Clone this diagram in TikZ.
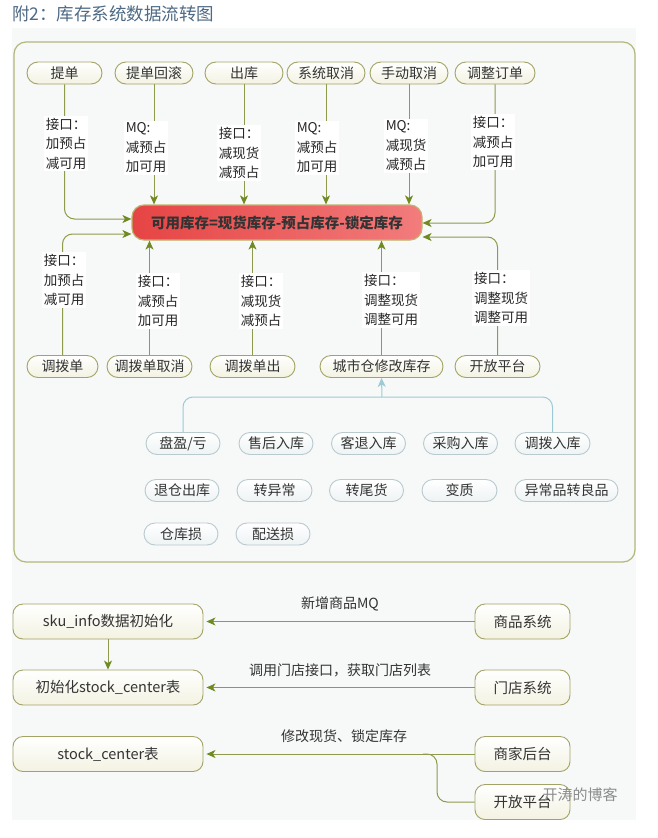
\documentclass[tikz,border=0pt]{standalone}
\usepackage{fontspec}
\setmainfont{Noto Sans CJK SC}
\usetikzlibrary{arrows.meta,calc}
\definecolor{bgc}{HTML}{F7F8F8}
\definecolor{framec}{HTML}{B3B77A}
\definecolor{nodeb}{HTML}{A2A466}
\definecolor{creamc}{HTML}{F3F2E2}
\definecolor{linec}{HTML}{8F9A4C}
\definecolor{arrc}{HTML}{6F8A22}
\definecolor{cyanl}{HTML}{9CCBD6}
\definecolor{grpb}{HTML}{B9CACE}
\definecolor{grpf}{HTML}{EEF3F4}
\definecolor{titlec}{HTML}{4E6A85}
\definecolor{txt}{HTML}{333333}
\definecolor{redl}{HTML}{E64444}
\definecolor{redr}{HTML}{F27C7C}
\definecolor{redb}{HTML}{BDB56E}
\begin{document}
\begin{tikzpicture}[x=1pt,y=-1pt,
  pill/.style={draw=nodeb, line width=0.9pt, rounded corners=11pt, minimum height=22pt, inner sep=0pt,
    top color=white, bottom color=creamc, font=\fontsize{14}{16}\selectfont, text=txt},
  grp/.style={draw=grpb, line width=0.9pt, rounded corners=11pt, minimum height=22pt, inner sep=0pt,
    top color=white, bottom color=grpf, font=\fontsize{14}{16}\selectfont, text=txt},
  box/.style={draw=nodeb, line width=0.9pt, rounded corners=10pt, minimum height=35pt, inner sep=0pt,
    top color=white, bottom color=creamc, font=\fontsize{14.5}{16}\selectfont, text=txt},
  lab/.style={fill=white, align=left, inner sep=2pt, font=\fontsize{13.5}{19.5}\selectfont, text=black!85},
  plain/.style={inner sep=1pt, font=\fontsize{14}{16}\selectfont, text=txt},
  conn/.style={draw=linec, line width=1pt, rounded corners=10pt,
    -{Stealth[length=9pt,width=8pt,inset=2.5pt,color=arrc]}},
  oline/.style={draw=linec, line width=1pt, rounded corners=10pt},
  cline/.style={draw=cyanl, line width=1pt, rounded corners=10pt},
  carrow/.style={draw=cyanl, line width=1pt, -{Stealth[length=9pt,width=8pt,inset=2.5pt,color=cyanl]}}
]
\useasboundingbox (0,0) rectangle (657,838);
\fill[white] (0,0) rectangle (657,838);
\fill[bgc] (12,28) rectangle (636,820);
\node[anchor=west, text=titlec, font=\fontsize{17.5}{18}\selectfont, inner sep=0pt] (title) at (12,14) {附2：库存系统数据流转图};
\draw[framec, line width=1.2pt, rounded corners=12pt] (14,42) rectangle (635,562);

% central red box
\node[draw=redb, line width=1.2pt, rounded corners=12pt, minimum width=290pt, minimum height=35pt, inner sep=0pt,
  left color=redl, right color=redr, font=\bfseries\fontsize{14.5}{16}\selectfont, text=black!80] (red) at (277,222.5)
  {可用库存=现货库存-预占库存-锁定库存};

% top nodes
\node[pill, minimum width=75pt] (tidan) at (64.5,73) {提单};
\node[pill, minimum width=78pt] (tdhg) at (154,73) {提单回滚};
\node[pill, minimum width=78pt] (chuku) at (244,73) {出库};
\node[pill, minimum width=78pt] (xtqx) at (326,73) {系统取消};
\node[pill, minimum width=78pt] (sdqx) at (409,73) {手动取消};
\node[pill, minimum width=80pt] (tzdd) at (495,73) {调整订单};

% bottom nodes
\node[pill, minimum width=71pt] (dbd) at (62.5,366.5) {调拨单};
\node[pill, minimum width=85pt] (dbdqx) at (149.5,366.5) {调拨单取消};
\node[pill, minimum width=85pt] (dbdc) at (252.5,366.5) {调拨单出};
\node[pill, minimum width=123pt] (csc) at (381.5,366.5) {城市仓修改库存};
\node[pill, minimum width=85pt] (kfpt) at (497.5,366.5) {开放平台};

% connectors into red box
\draw[conn] (tidan.south) |- ([yshift=3.5pt]red.west);
\draw[conn] (tdhg.south) -- (tdhg.south |- red.north);
\draw[conn] (chuku.south) -- (chuku.south |- red.north);
\draw[conn] (xtqx.south) -- (xtqx.south |- red.north);
\draw[conn] (sdqx.south) -- (sdqx.south |- red.north);
\draw[conn] (tzdd.south) |- ([yshift=-0.5pt]red.east);
\draw[conn] (dbd.north) |- ([yshift=-11.5pt]red.west);
\draw[conn] (dbdqx.north) -- (dbdqx.north |- red.south);
\draw[conn] (dbdc.north) -- (dbdc.north |- red.south);
\draw[conn] (csc.north) -- (csc.north |- red.south);
\draw[conn] (kfpt.north) |- ([yshift=-14.5pt]red.east);

% labels on connectors
\node[lab] (l1) at (66,143.5) {接口：\\加预占\\减可用};
\node[lab] (l2) at (146,148) {MQ:\\减预占\\加可用};
\node[lab] (l3) at (239,153) {接口：\\减现货\\减预占};
\node[lab] (l4) at (317,148) {MQ:\\减预占\\加可用};
\node[lab] (l5) at (406,146) {MQ:\\减现货\\减预占};
\node[lab] (l6) at (493,142) {接口：\\减预占\\加可用};
\node[lab] (b1) at (64,280) {接口：\\加预占\\减可用};
\node[lab] (b2) at (158,301) {接口：\\减预占\\加可用};
\node[lab] (b3) at (261,301) {接口：\\减现货\\减预占};
\node[lab] (b4) at (391,300) {接口：\\调整现货\\调整可用};
\node[lab] (b5) at (501,298) {接口：\\调整现货\\调整可用};

% group nodes
\node[grp, minimum width=74pt] (pyk) at (183,443.5) {盘盈/亏};
\node[grp, minimum width=74pt] (shrk) at (276,443.5) {售后入库};
\node[grp, minimum width=74pt] (ktrk) at (368.5,443.5) {客退入库};
\node[grp, minimum width=74pt] (cgrk) at (460.5,443.5) {采购入库};
\node[grp, minimum width=75pt] (dbrk) at (552.5,443.5) {调拨入库};
\node[grp, minimum width=74pt] (tcck) at (182,490.5) {退仓出库};
\node[grp, minimum width=75pt] (tyc) at (274.5,490.5) {转异常};
\node[grp, minimum width=74pt] (twh) at (366.5,490.5) {转尾货};
\node[grp, minimum width=75pt] (bz) at (459.5,490.5) {变质};
\node[grp, minimum width=103pt] (ycp) at (566.5,490.5) {异常品转良品};
\node[grp, minimum width=74pt] (cks) at (181,534) {仓库损};
\node[grp, minimum width=74pt] (pss) at (273,534) {配送损};

\coordinate (jn) at (382,397);
\draw[cline] (pyk.north) |- (jn) -| (dbrk.north);
\draw[carrow] (jn) -- (csc.south);

% bottom section
\node[box, minimum width=190pt] (sku) at (108,621.5) {sku\_info数据初始化};
\node[box, minimum width=190pt] (init) at (108,687.5) {初始化stock\_center表};
\node[box, minimum width=190pt] (sc) at (108,754) {stock\_center表};
\node[box, minimum width=95pt] (spxt) at (522.5,621.5) {商品系统};
\node[box, minimum width=95pt] (mdxt) at (522.5,687.5) {门店系统};
\node[box, minimum width=95pt] (sjht) at (522.5,754) {商家后台};
\node[box, minimum width=95pt] (kfpt2) at (522.5,802) {开放平台};

\draw[conn, shorten >=3pt] (spxt.west) -- (sku.east);
\draw[conn, shorten >=3pt] (mdxt.west) -- (init.east);
\draw[conn, shorten >=3pt] (sjht.west) -- (sc.east);
\draw[conn] (sku.south) -- (init.north);
\coordinate (mg) at (437,754);
\draw[oline] (kfpt2.west) -| (mg) -- ++(-14,0);

\node[plain] (t1) at (340,604) {新增商品MQ};
\node[plain] (t2) at (340,670) {调用门店接口，获取门店列表};
\node[plain] (t3) at (344,736) {修改现货、锁定库存};

\node[inner sep=0pt, text=black!45, font=\fontsize{15}{16}\selectfont] (wm) at (580,795) {开涛的博客};
\end{tikzpicture}
\end{document}
